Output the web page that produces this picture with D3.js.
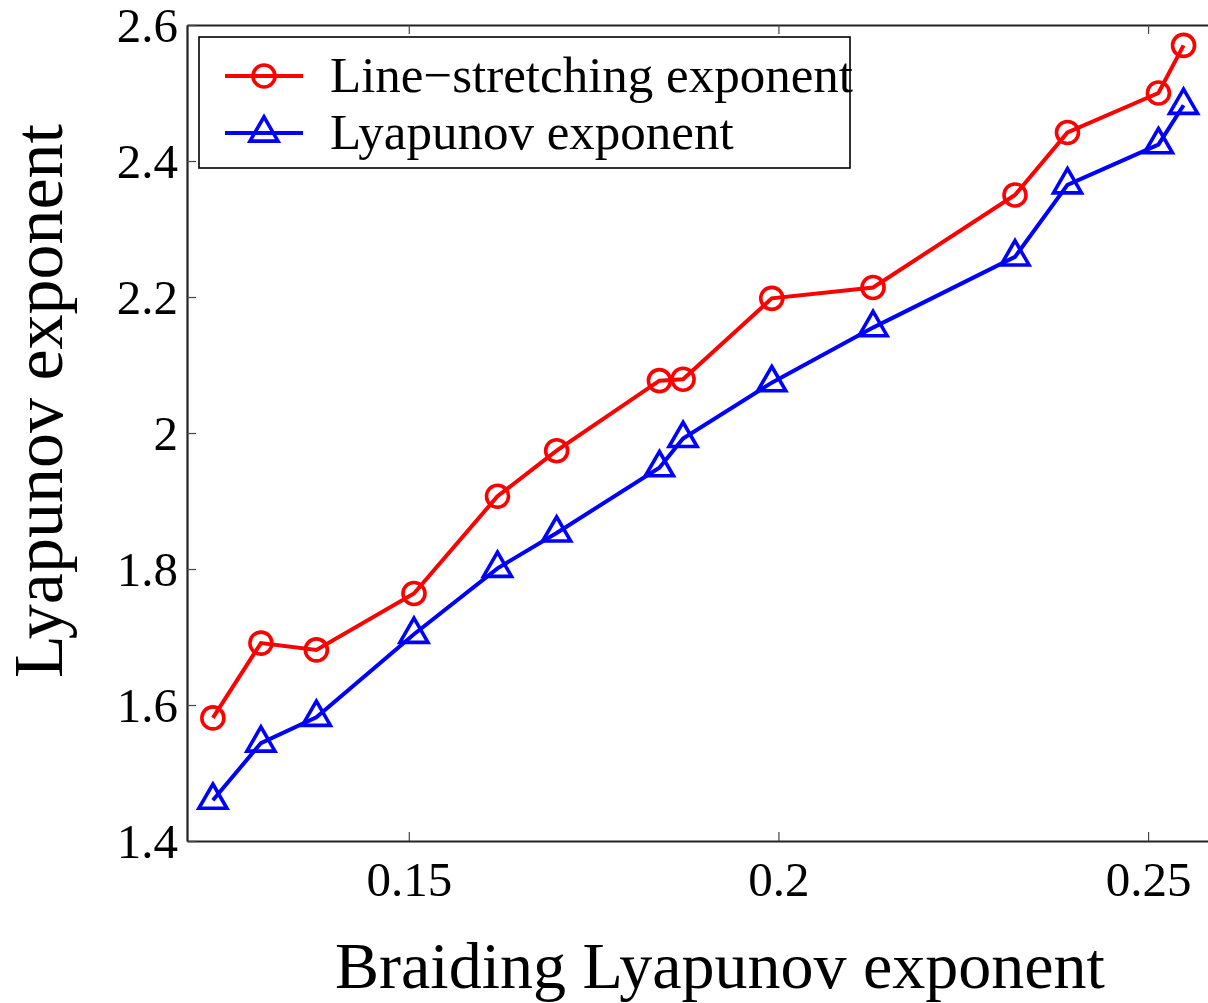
<!DOCTYPE html>
<html>
<head>
<meta charset="utf-8">
<script src="https://cdn.jsdelivr.net/npm/d3@7"></script>
<style>
  html, body { margin: 0; padding: 0; background: #fff; }
  svg { display: block; }
  text { font-family: "Liberation Serif", "Times New Roman", serif; fill: #000; }
</style>
</head>
<body>
<svg id="chart" width="1208" height="1003"></svg>
<script>
// ---- data ----
const xValues = [0.1235, 0.1300, 0.1375, 0.1507, 0.1620, 0.1700, 0.1839, 0.1871, 0.1991, 0.2128, 0.2320, 0.2391, 0.2514, 0.2548];
const lineStretching = [1.581, 1.691, 1.681, 1.764, 1.907, 1.974, 2.077, 2.079, 2.198, 2.214, 2.350, 2.442, 2.500, 2.570];
const lyapunov = [1.460, 1.544, 1.582, 1.704, 1.801, 1.853, 1.949, 1.992, 2.074, 2.155, 2.259, 2.365, 2.424, 2.482];
const seriesNames = ["Line\u2212stretching exponent", "Lyapunov exponent"];
const xTicks = [0.15, 0.2, 0.25];
const xTickLabels = ["0.15", "0.2", "0.25"];
const yTicks = [1.4, 1.6, 1.8, 2.0, 2.2, 2.4, 2.6];
const yTickLabels = ["1.4", "1.6", "1.8", "2", "2.2", "2.4", "2.6"];
const xTitle = "Braiding Lyapunov exponent";
const yTitle = "Lyapunov exponent";

// ---- layout ----
const svg = d3.select("#chart");
const L = 187, R = 1222, T = 25, B = 841;
const x = d3.scaleLinear().domain([0.12, 0.26]).range([L, R]);
const y = d3.scaleLinear().domain([1.4, 2.6]).range([B, T]);

const tickLen = 9;
const tickColor = "#444";

// axes with inward ticks
const gx = svg.append("g").attr("transform", `translate(0,${B})`)
  .call(d3.axisBottom(x).tickValues(xTicks).tickFormat((d, i) => xTickLabels[i]).tickSizeInner(-tickLen).tickSizeOuter(0).tickPadding(20));
const gxt = svg.append("g").attr("transform", `translate(0,${T})`)
  .call(d3.axisTop(x).tickValues(xTicks).tickFormat("").tickSizeInner(-tickLen).tickSizeOuter(0));
const gy = svg.append("g").attr("transform", `translate(${L},0)`)
  .call(d3.axisLeft(y).tickValues(yTicks).tickFormat((d, i) => yTickLabels[i]).tickSizeInner(-tickLen).tickSizeOuter(0).tickPadding(9));

[gx, gxt, gy].forEach(g => {
  g.select(".domain").attr("stroke", "#222").attr("stroke-width", 2.2);
  g.selectAll(".tick line").attr("stroke", tickColor).attr("stroke-width", 1.2);
  g.selectAll(".tick text").style("font-family", '"Liberation Serif", serif').style("font-size", "49px").attr("fill", "#000");
});
gx.selectAll(".tick text").attr("dy", "0.71em");
gy.selectAll(".tick text").attr("dy", "0.34em");

// ---- series ----
const s1 = xValues.map((v, i) => [v, lineStretching[i]]);
const s2 = xValues.map((v, i) => [v, lyapunov[i]]);
const line = d3.line().x(d => x(d[0])).y(d => y(d[1]));

const red = "#ff0000", blue = "#0000ff";
const lw = 4;
const mw = 3.6;
const triSize = 340;
const circR = 11;

svg.append("path").datum(s1).attr("d", line).attr("fill", "none").attr("stroke", red).attr("stroke-width", lw);
svg.append("path").datum(s2).attr("d", line).attr("fill", "none").attr("stroke", blue).attr("stroke-width", lw);

svg.append("g").selectAll("circle").data(s1).join("circle")
  .attr("cx", d => x(d[0])).attr("cy", d => y(d[1])).attr("r", circR)
  .attr("fill", "none").attr("stroke", red).attr("stroke-width", mw);

const tri = d3.symbol().type(d3.symbolTriangle).size(triSize);
svg.append("g").selectAll("path").data(s2).join("path")
  .attr("transform", d => `translate(${x(d[0])},${y(d[1])})`).attr("d", tri)
  .attr("fill", "none").attr("stroke", blue).attr("stroke-width", mw);

// ---- legend ----
const leg = svg.append("g");
leg.append("rect").attr("x", 199).attr("y", 37).attr("width", 651).attr("height", 131)
  .attr("fill", "#fff").attr("stroke", "#000").attr("stroke-width", 1.6);
const rows = [{ name: seriesNames[0], color: red, yy: 76, m: "c" }, { name: seriesNames[1], color: blue, yy: 133, m: "t" }];
rows.forEach(r => {
  leg.append("line").attr("x1", 225).attr("x2", 303).attr("y1", r.yy).attr("y2", r.yy)
    .attr("stroke", r.color).attr("stroke-width", lw);
  if (r.m === "c") {
    leg.append("circle").attr("cx", 264).attr("cy", r.yy).attr("r", circR)
      .attr("fill", "none").attr("stroke", r.color).attr("stroke-width", mw);
  } else {
    leg.append("path").attr("transform", `translate(264,${r.yy})`).attr("d", tri)
      .attr("fill", "none").attr("stroke", r.color).attr("stroke-width", mw);
  }
  leg.append("text").attr("x", 330).attr("y", r.yy + 16).style("font-size", "51px").text(r.name);
});

// ---- axis titles ----
svg.append("text").attr("x", 720).attr("y", 988).attr("text-anchor", "middle")
  .style("font-size", "66px").text(xTitle);
svg.append("text").attr("transform", `translate(62,401) rotate(-90)`).attr("text-anchor", "middle")
  .style("font-size", "70px").text(yTitle);
</script>
</body>
</html>
